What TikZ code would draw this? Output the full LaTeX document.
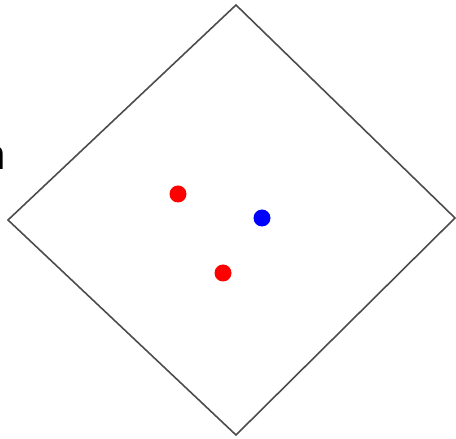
\documentclass[tikz,border=0pt]{standalone}
\usepackage{fontspec}
\setmainfont{Liberation Sans}
\begin{document}
\begin{tikzpicture}[x=1pt,y=1pt,
  edge/.style={draw=black!70,line width=1.6pt},
  reddot/.style={circle,fill=red,minimum size=17pt,inner sep=0pt},
  bluedot/.style={circle,fill=blue,minimum size=17pt,inner sep=0pt}]
\useasboundingbox (0,0) rectangle (456,439);
\coordinate (T) at (236,434);
\coordinate (R) at (455,221);
\coordinate (B) at (236,4);
\coordinate (L) at (8,219);
\draw[edge] (T) -- (R) -- (B) -- (L) -- cycle;
\node[reddot] (r1) at (178,245) {};
\node[bluedot] (b1) at (262,221) {};
\node[reddot] (r2) at (223,166) {};
\node[anchor=base east,inner sep=0pt,font=\fontsize{42}{42}\selectfont] (lbl) at (5.8,269) {n};
\end{tikzpicture}
\end{document}
